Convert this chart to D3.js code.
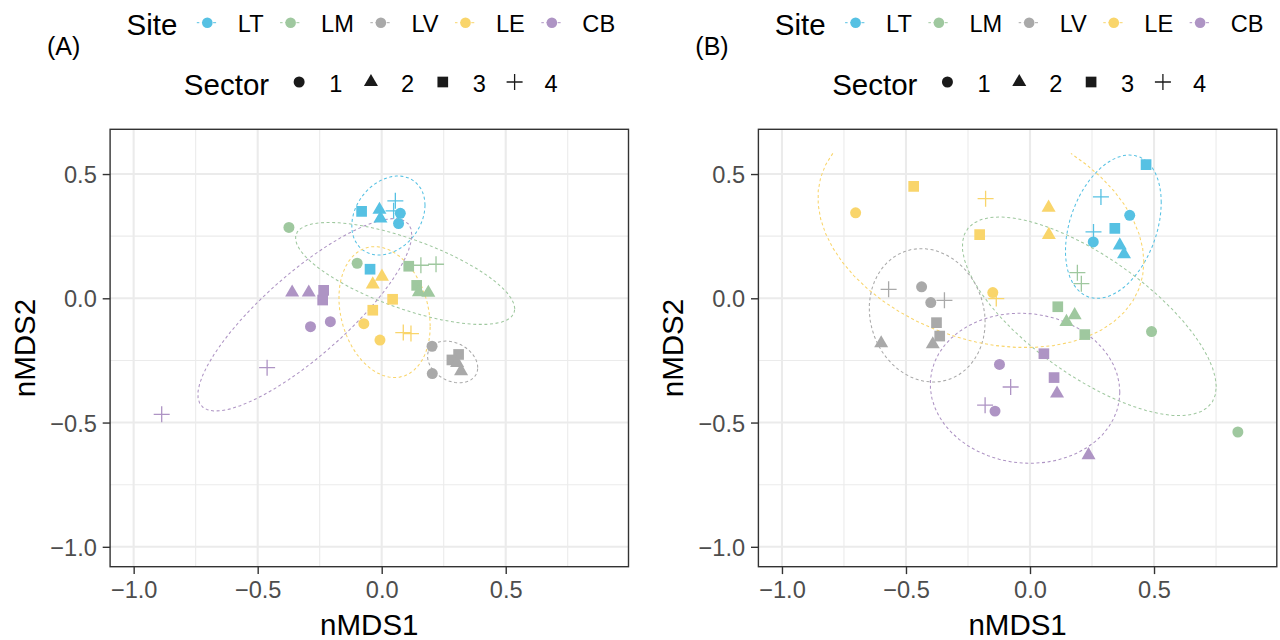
<!DOCTYPE html>
<html>
<head>
<meta charset="utf-8">
<script src="https://cdn.jsdelivr.net/npm/d3@7/dist/d3.min.js"></script>
<style>
  body { margin: 0; background: #fff; }
  svg { display: block; font-family: "Liberation Sans", Arial, Helvetica, sans-serif; }
</style>
</head>
<body>
<div id="chart"></div>
<script>
// ---------------- data ----------------
const sites = ["LT", "LM", "LV", "LE", "CB"];
const sectors = [1, 2, 3, 4];
const siteColors = ["#56C1E3", "#9FC89F", "#A9A9A9", "#F9D56B", "#AE94C4"];
const panelLabels = ["(A)", "(B)"];

const xLimits = [-1, 0.9];
const yLimits = [-1, 0.6];
const xTicks = [-1, -0.5, 0, 0.5];
const yTicks = [-1, -0.5, 0, 0.5];
const xMinor = [-0.75, -0.25, 0.25, 0.75];
const yMinor = [-0.75, -0.25, 0.25];

// site, sector, nMDS1, nMDS2
const pointsA = [
  ["LT", 3, -0.081, 0.350], ["LT", 2, -0.009, 0.356], ["LT", 2, -0.005, 0.321], ["LT", 1, 0.075, 0.342],
  ["LT", 1, 0.068, 0.301], ["LT", 4, 0.055, 0.392], ["LT", 4, 0.048, 0.352], ["LT", 3, -0.047, 0.117],
  ["LM", 1, -0.374, 0.285], ["LM", 1, -0.099, 0.141], ["LM", 3, 0.109, 0.129], ["LM", 3, 0.141, 0.052],
  ["LM", 2, 0.150, 0.025], ["LM", 2, 0.188, 0.022], ["LM", 4, 0.158, 0.133], ["LM", 4, 0.219, 0.137],
  ["LV", 1, 0.203, -0.193], ["LV", 1, 0.204, -0.303], ["LV", 3, 0.283, -0.248], ["LV", 3, 0.310, -0.226],
  ["LV", 2, 0.304, -0.260], ["LV", 2, 0.320, -0.293],
  ["LE", 2, 0.001, 0.087], ["LE", 2, -0.036, 0.056], ["LE", 3, 0.044, -0.004], ["LE", 3, -0.036, -0.048],
  ["LE", 1, -0.072, -0.102], ["LE", 1, -0.007, -0.168], ["LE", 4, 0.087, -0.138], ["LE", 4, 0.118, -0.142],
  ["CB", 2, -0.361, 0.023], ["CB", 2, -0.294, 0.023], ["CB", 3, -0.234, 0.032], ["CB", 3, -0.238, -0.007],
  ["CB", 1, -0.287, -0.114], ["CB", 1, -0.207, -0.094], ["CB", 4, -0.462, -0.279], ["CB", 4, -0.887, -0.467]
];

const pointsB = [
  ["LT", 3, 0.468, 0.538], ["LT", 3, 0.342, 0.281], ["LT", 1, 0.402, 0.334], ["LT", 1, 0.255, 0.227],
  ["LT", 2, 0.362, 0.213], ["LT", 2, 0.379, 0.177], ["LT", 4, 0.286, 0.408], ["LT", 4, 0.256, 0.267],
  ["LM", 1, 0.490, -0.134], ["LM", 1, 0.838, -0.538], ["LM", 3, 0.112, -0.034], ["LM", 3, 0.221, -0.146],
  ["LM", 2, 0.180, -0.068], ["LM", 2, 0.147, -0.095], ["LM", 4, 0.191, 0.103], ["LM", 4, 0.207, 0.059],
  ["LV", 1, -0.437, 0.046], ["LV", 1, -0.400, -0.017], ["LV", 3, -0.377, -0.098], ["LV", 3, -0.364, -0.152],
  ["LV", 2, -0.600, -0.181], ["LV", 2, -0.392, -0.185], ["LV", 4, -0.570, 0.036], ["LV", 4, -0.345, -0.008],
  ["LE", 1, -0.703, 0.344], ["LE", 3, -0.469, 0.450], ["LE", 3, -0.203, 0.256], ["LE", 2, 0.075, 0.365],
  ["LE", 2, 0.076, 0.255], ["LE", 4, -0.179, 0.401], ["LE", 1, -0.150, 0.023], ["LE", 4, -0.136, -0.001],
  ["CB", 1, -0.123, -0.266], ["CB", 1, -0.141, -0.454], ["CB", 3, 0.056, -0.223], ["CB", 3, 0.097, -0.319],
  ["CB", 2, 0.109, -0.383], ["CB", 2, 0.236, -0.631], ["CB", 4, -0.078, -0.357], ["CB", 4, -0.181, -0.430]
];

// site, centre nMDS1, centre nMDS2, semi axis a, semi axis b, angle of a (deg)
const ellipsesA = [
  ["LT", 0.027, 0.333, 0.173, 0.131, 52.9],
  ["LM", 0.0945, 0.100, 0.467, 0.140, -19.7],
  ["LV", 0.286, -0.256, 0.107, 0.0765, -27.8],
  ["LE", 0.0115, -0.0555, 0.269, 0.176, -74.7],
  ["CB", -0.310, -0.0665, 0.555, 0.167, 41.3]
];

const ellipsesB = [
  ["LT", 0.336, 0.288, 0.300, 0.175, 70.4],
  ["LM", 0.239, -0.0725, 0.604, 0.239, -35.3],
  ["LV", -0.4145, -0.0685, 0.2725, 0.229, -71.8],
  ["LE", -0.198, 0.275, 0.680, 0.440, -19.7],
  ["CB", -0.020, -0.362, 0.383, 0.301, -6.2]
];

// ---------------- layout ----------------
const width = 1280, height = 640;
const panelOffsets = [0, 648.3];
const tickFont = 23.6, titleFont = 29.5, legendFont = 23.6;

const svg = d3.select("#chart").append("svg")
  .attr("width", width)
  .attr("height", height);

// ggplot style 5% expansion
function expand(lim) {
  const d = (lim[1] - lim[0]) * 0.05;
  return [lim[0] - d, lim[1] + d];
}

const x = d3.scaleLinear().domain(expand(xLimits)).range([110.1, 628.5]);
const y = d3.scaleLinear().domain(expand(yLimits)).range([566.7, 129.3]);
const color = d3.scaleOrdinal().domain(sites).range(siteColors);

//shapes for the sectors: circle, triangle, square, plus
function shapePath(sector) {
  if (sector === 1) return d3.symbol(d3.symbolCircle, 95)();
  if (sector === 2) return d3.symbol(d3.symbolTriangle, 85)();
  if (sector === 3) return d3.symbol(d3.symbolSquare, 114)();
  return "M-8,0H8M0,-8V8";
}

//ellipse outline the way stat_ellipse builds it (52 points round a circle)
function ellipsePoints(e) {
  const [, cx, cy, a, b, ang] = e;
  const t = ang * Math.PI / 180;
  const c = Math.cos(t), s = Math.sin(t);
  const mxx = a * a * c * c + b * b * s * s;
  const myy = a * a * s * s + b * b * c * c;
  const mxy = (a * a - b * b) * s * c;
  const r11 = Math.sqrt(mxx), r12 = mxy / r11, r22 = Math.sqrt(myy - r12 * r12);
  return d3.range(52).map(i => {
    const u = 2 * Math.PI * i / 51;
    return [cx + r11 * Math.cos(u), cy + r12 * Math.cos(u) + r22 * Math.sin(u)];
  });
}

//points outside the scale limits are dropped, which opens the path
const ellipseLine = d3.line()
  .defined(p => p[0] >= xLimits[0] && p[0] <= xLimits[1] && p[1] >= yLimits[0] && p[1] <= yLimits[1])
  .x(p => x(p[0]))
  .y(p => y(p[1]));

function drawPanel(idx, points, ellipses) {
  const g = svg.append("g").attr("transform", `translate(${panelOffsets[idx]},0)`);
  const [x0, x1] = x.range();
  const [y0, y1] = y.range();

  //panel background + grid
  g.append("rect")
    .attr("x", x0).attr("y", y1)
    .attr("width", x1 - x0).attr("height", y0 - y1)
    .attr("fill", "#fff");

  g.selectAll(".xminor").data(xMinor).enter().append("line")
    .attr("x1", d => x(d)).attr("x2", d => x(d))
    .attr("y1", y1).attr("y2", y0)
    .attr("stroke", "#EBEBEB").attr("stroke-width", 1.1);
  g.selectAll(".yminor").data(yMinor).enter().append("line")
    .attr("y1", d => y(d)).attr("y2", d => y(d))
    .attr("x1", x0).attr("x2", x1)
    .attr("stroke", "#EBEBEB").attr("stroke-width", 1.1);
  g.selectAll(".xmajor").data(xTicks).enter().append("line")
    .attr("x1", d => x(d)).attr("x2", d => x(d))
    .attr("y1", y1).attr("y2", y0)
    .attr("stroke", "#EBEBEB").attr("stroke-width", 2.1);
  g.selectAll(".ymajor").data(yTicks).enter().append("line")
    .attr("y1", d => y(d)).attr("y2", d => y(d))
    .attr("x1", x0).attr("x2", x1)
    .attr("stroke", "#EBEBEB").attr("stroke-width", 2.1);

  const clipId = "clip" + idx;
  g.append("clipPath").attr("id", clipId)
    .append("rect")
    .attr("x", x0).attr("y", y1)
    .attr("width", x1 - x0).attr("height", y0 - y1);

  const plot = g.append("g").attr("clip-path", `url(#${clipId})`);

  //ellipses
  plot.selectAll(".ell").data(ellipses).enter().append("path")
    .attr("d", d => ellipseLine(ellipsePoints(d)))
    .attr("fill", "none")
    .attr("stroke", d => color(d[0]))
    .attr("stroke-width", 1.05)
    .attr("stroke-dasharray", "3,2.6");

  //points
  plot.selectAll(".pt").data(points).enter().append("path")
    .attr("transform", d => `translate(${x(d[2])},${y(d[3])})`)
    .attr("d", d => shapePath(d[1]))
    .attr("fill", d => d[1] === 4 ? "none" : color(d[0]))
    .attr("stroke", d => d[1] === 4 ? color(d[0]) : "none")
    .attr("stroke-width", 1.3);

  //border
  g.append("rect")
    .attr("x", x0).attr("y", y1)
    .attr("width", x1 - x0).attr("height", y0 - y1)
    .attr("fill", "none")
    .attr("stroke", "#333333")
    .attr("stroke-width", 1.4);

  //axes
  const xAxis = g.append("g")
    .attr("transform", `translate(0,${y0})`)
    .call(d3.axisBottom(x).tickValues(xTicks).tickFormat(d3.format(".1f")).tickSize(7.4).tickPadding(5.9));
  const yAxis = g.append("g")
    .attr("transform", `translate(${x0},0)`)
    .call(d3.axisLeft(y).tickValues(yTicks).tickFormat(d3.format(".1f")).tickSize(7.4).tickPadding(5.9));
  [xAxis, yAxis].forEach(a => {
    a.select(".domain").remove();
    a.selectAll(".tick line").attr("stroke", "#333333").attr("stroke-width", 1.4);
    a.selectAll(".tick text")
      .attr("fill", "#4D4D4D")
      .style("font-size", tickFont + "px")
      .style("font-family", "inherit");
  });
  xAxis.selectAll(".tick text").attr("dy", "0.78em");
  yAxis.selectAll(".tick text").attr("dy", "0.36em");

  //axis titles
  g.append("text")
    .attr("x", (x0 + x1) / 2).attr("y", 635)
    .attr("text-anchor", "middle")
    .style("font-size", titleFont + "px")
    .text("nMDS1");
  g.append("text")
    .attr("transform", `translate(35,${(y0 + y1) / 2}) rotate(-90)`)
    .attr("text-anchor", "middle")
    .style("font-size", titleFont + "px")
    .text("nMDS2");

  //panel tag
  g.append("text")
    .attr("x", 47).attr("y", 55)
    .style("font-size", "25px")
    .text(panelLabels[idx]);

  //legends, centred over the panel
  const centre = (x0 + x1) / 2 + 1.5;

  //site legend
  const siteRow = g.append("g");
  const siteTitle = siteRow.append("text").attr("y", 35).style("font-size", titleFont + "px").text("Site");
  let cur = siteTitle.node().getComputedTextLength();
  sites.forEach((s, i) => {
    const kx = cur + (i === 0 ? 30 : 27);
    const key = siteRow.append("g").attr("transform", `translate(${kx},22.7)`);
    key.append("line").attr("x1", -10.5).attr("x2", 10.5)
      .attr("stroke", color(s)).attr("stroke-width", 1).attr("stroke-dasharray", "3,2.6")
      .attr("stroke-dashoffset", 0.5);
    key.append("circle").attr("r", 5.3).attr("fill", color(s));
    const t = siteRow.append("text").attr("x", kx + 30.5).attr("y", 31.7)
      .style("font-size", legendFont + "px").text(s);
    cur = kx + 30.5 + t.node().getComputedTextLength();
  });
  siteRow.attr("transform", `translate(${centre - cur / 2},0)`);

  //sector legend
  const secRow = g.append("g");
  const secTitle = secRow.append("text").attr("y", 95).style("font-size", titleFont + "px").text("Sector");
  cur = secTitle.node().getComputedTextLength();
  sectors.forEach((s, i) => {
    const kx = cur + (i === 0 ? 30 : 28.7);
    secRow.append("path")
      .attr("transform", `translate(${kx},82)`)
      .attr("d", shapePath(s))
      .attr("fill", s === 4 ? "none" : "#1A1A1A")
      .attr("stroke", s === 4 ? "#1A1A1A" : "none")
      .attr("stroke-width", 1.3);
    const t = secRow.append("text").attr("x", kx + 30).attr("y", 91.7)
      .style("font-size", legendFont + "px").text(s);
    cur = kx + 30 + t.node().getComputedTextLength();
  });
  secRow.attr("transform", `translate(${centre - cur / 2},0)`);
}

drawPanel(0, pointsA, ellipsesA);
drawPanel(1, pointsB, ellipsesB);
</script>
</body>
</html>
